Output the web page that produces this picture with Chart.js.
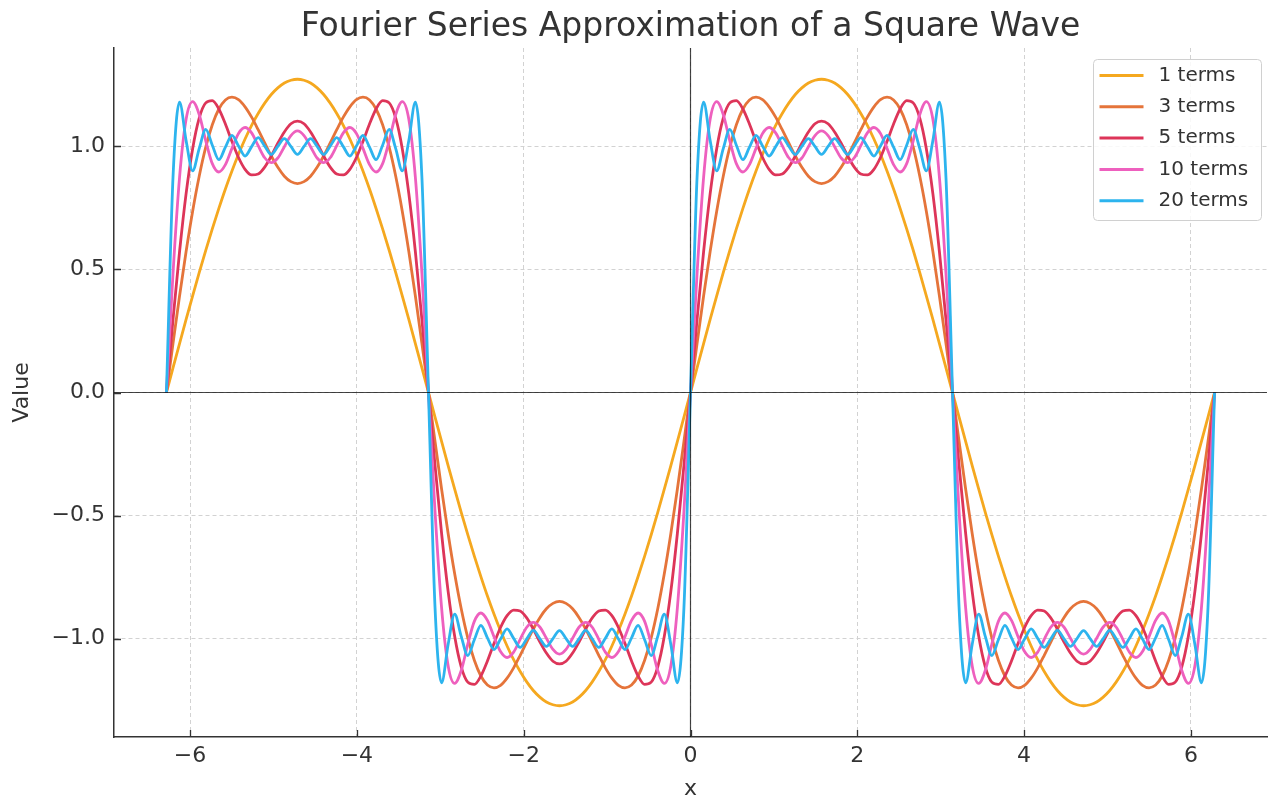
<!DOCTYPE html>
<html>
<head>
<meta charset="utf-8">
<title>Fourier Series Approximation of a Square Wave</title>
<script src="https://cdn.jsdelivr.net/npm/chart.js@4.4.0/dist/chart.umd.min.js"></script>
<style>
    html, body { margin: 0; padding: 0; background: #fff; }
    #wrap { width: 1270px; height: 800px; }
</style>
</head>
<body>
<div id="wrap"><canvas id="fourierChart" width="1270" height="800"></canvas></div>
<script>
// Sample grid: x from -2pi to 2pi, one sample every pi/40 (161 samples per curve)
const xStart = -2 * Math.PI;
const xStep = Math.PI / 40;

const seriesLabels = ['1 terms', '3 terms', '5 terms', '10 terms', '20 terms'];
const xTickValues = [-6, -4, -2, 0, 2, 4, 6];
const yTickValues = [-1.0, -0.5, 0.0, 0.5, 1.0];

// Values (one period = rise, fall, 0, -rise, -fall)
const terms1 = [
    0,
    0.100, 0.199, 0.297, 0.393, 0.487, 0.578, 0.665, 0.748, 0.827, 0.900, 0.968, 1.030, 1.086, 1.134, 1.176, 1.211, 1.238, 1.258, 1.269, 1.273,
    1.269, 1.258, 1.238, 1.211, 1.176, 1.134, 1.086, 1.030, 0.968, 0.900, 0.827, 0.748, 0.665, 0.578, 0.487, 0.393, 0.297, 0.199, 0.100,
    0,
    -0.100, -0.199, -0.297, -0.393, -0.487, -0.578, -0.665, -0.748, -0.827, -0.900, -0.968, -1.030, -1.086, -1.134, -1.176, -1.211, -1.238, -1.258, -1.269, -1.273,
    -1.269, -1.258, -1.238, -1.211, -1.176, -1.134, -1.086, -1.030, -0.968, -0.900, -0.827, -0.748, -0.665, -0.578, -0.487, -0.393, -0.297, -0.199, -0.100,
    0,
    0.100, 0.199, 0.297, 0.393, 0.487, 0.578, 0.665, 0.748, 0.827, 0.900, 0.968, 1.030, 1.086, 1.134, 1.176, 1.211, 1.238, 1.258, 1.269, 1.273,
    1.269, 1.258, 1.238, 1.211, 1.176, 1.134, 1.086, 1.030, 0.968, 0.900, 0.827, 0.748, 0.665, 0.578, 0.487, 0.393, 0.297, 0.199, 0.100,
    0,
    -0.100, -0.199, -0.297, -0.393, -0.487, -0.578, -0.665, -0.748, -0.827, -0.900, -0.968, -1.030, -1.086, -1.134, -1.176, -1.211, -1.238, -1.258, -1.269, -1.273,
    -1.269, -1.258, -1.238, -1.211, -1.176, -1.134, -1.086, -1.030, -0.968, -0.900, -0.827, -0.748, -0.665, -0.578, -0.487, -0.393, -0.297, -0.199, -0.100,
    0
];

const terms3 = [
    0,
    0.199, 0.392, 0.573, 0.737, 0.879, 0.997, 1.088, 1.152, 1.189, 1.200, 1.190, 1.161, 1.119, 1.068, 1.014, 0.961, 0.915, 0.879, 0.857, 0.849,
    0.857, 0.879, 0.915, 0.961, 1.014, 1.068, 1.119, 1.161, 1.190, 1.200, 1.189, 1.152, 1.088, 0.997, 0.879, 0.737, 0.573, 0.392, 0.199,
    0,
    -0.199, -0.392, -0.573, -0.737, -0.879, -0.997, -1.088, -1.152, -1.189, -1.200, -1.190, -1.161, -1.119, -1.068, -1.014, -0.961, -0.915, -0.879, -0.857, -0.849,
    -0.857, -0.879, -0.915, -0.961, -1.014, -1.068, -1.119, -1.161, -1.190, -1.200, -1.189, -1.152, -1.088, -0.997, -0.879, -0.737, -0.573, -0.392, -0.199,
    0,
    0.199, 0.392, 0.573, 0.737, 0.879, 0.997, 1.088, 1.152, 1.189, 1.200, 1.190, 1.161, 1.119, 1.068, 1.014, 0.961, 0.915, 0.879, 0.857, 0.849,
    0.857, 0.879, 0.915, 0.961, 1.014, 1.068, 1.119, 1.161, 1.190, 1.200, 1.189, 1.152, 1.088, 0.997, 0.879, 0.737, 0.573, 0.392, 0.199,
    0,
    -0.199, -0.392, -0.573, -0.737, -0.879, -0.997, -1.088, -1.152, -1.189, -1.200, -1.190, -1.161, -1.119, -1.068, -1.014, -0.961, -0.915, -0.879, -0.857, -0.849,
    -0.857, -0.879, -0.915, -0.961, -1.014, -1.068, -1.119, -1.161, -1.190, -1.200, -1.189, -1.152, -1.088, -0.997, -0.879, -0.737, -0.573, -0.392, -0.199,
    0
];

const terms5 = [
    0,
    0.296, 0.572, 0.808, 0.991, 1.115, 1.177, 1.186, 1.152, 1.091, 1.020, 0.955, 0.907, 0.884, 0.888, 0.916, 0.961, 1.013, 1.059, 1.092, 1.103,
    1.092, 1.059, 1.013, 0.961, 0.916, 0.888, 0.884, 0.907, 0.955, 1.020, 1.091, 1.152, 1.186, 1.177, 1.115, 0.991, 0.808, 0.572, 0.296,
    0,
    -0.296, -0.572, -0.808, -0.991, -1.115, -1.177, -1.186, -1.152, -1.091, -1.020, -0.955, -0.907, -0.884, -0.888, -0.916, -0.961, -1.013, -1.059, -1.092, -1.103,
    -1.092, -1.059, -1.013, -0.961, -0.916, -0.888, -0.884, -0.907, -0.955, -1.020, -1.091, -1.152, -1.186, -1.177, -1.115, -0.991, -0.808, -0.572, -0.296,
    0,
    0.296, 0.572, 0.808, 0.991, 1.115, 1.177, 1.186, 1.152, 1.091, 1.020, 0.955, 0.907, 0.884, 0.888, 0.916, 0.961, 1.013, 1.059, 1.092, 1.103,
    1.092, 1.059, 1.013, 0.961, 0.916, 0.888, 0.884, 0.907, 0.955, 1.020, 1.091, 1.152, 1.186, 1.177, 1.115, 0.991, 0.808, 0.572, 0.296,
    0,
    -0.296, -0.572, -0.808, -0.991, -1.115, -1.177, -1.186, -1.152, -1.091, -1.020, -0.955, -0.907, -0.884, -0.888, -0.916, -0.961, -1.013, -1.059, -1.092, -1.103,
    -1.092, -1.059, -1.013, -0.961, -0.916, -0.888, -0.884, -0.907, -0.955, -1.020, -1.091, -1.152, -1.186, -1.177, -1.115, -0.991, -0.808, -0.572, -0.296,
    0
];

const terms10 = [
    0,
    0.483, 0.874, 1.110, 1.182, 1.130, 1.023, 0.930, 0.896, 0.926, 0.992, 1.053, 1.077, 1.055, 1.003, 0.954, 0.934, 0.953, 0.999, 1.044, 1.063,
    1.044, 0.999, 0.953, 0.934, 0.954, 1.003, 1.055, 1.077, 1.053, 0.992, 0.926, 0.896, 0.930, 1.023, 1.130, 1.182, 1.110, 0.874, 0.483,
    0,
    -0.483, -0.874, -1.110, -1.182, -1.130, -1.023, -0.930, -0.896, -0.926, -0.992, -1.053, -1.077, -1.055, -1.003, -0.954, -0.934, -0.953, -0.999, -1.044, -1.063,
    -1.044, -0.999, -0.953, -0.934, -0.954, -1.003, -1.055, -1.077, -1.053, -0.992, -0.926, -0.896, -0.930, -1.023, -1.130, -1.182, -1.110, -0.874, -0.483,
    0,
    0.483, 0.874, 1.110, 1.182, 1.130, 1.023, 0.930, 0.896, 0.926, 0.992, 1.053, 1.077, 1.055, 1.003, 0.954, 0.934, 0.953, 0.999, 1.044, 1.063,
    1.044, 0.999, 0.953, 0.934, 0.954, 1.003, 1.055, 1.077, 1.053, 0.992, 0.926, 0.896, 0.930, 1.023, 1.130, 1.182, 1.110, 0.874, 0.483,
    0,
    -0.483, -0.874, -1.110, -1.182, -1.130, -1.023, -0.930, -0.896, -0.926, -0.992, -1.053, -1.077, -1.055, -1.003, -0.954, -0.934, -0.953, -0.999, -1.044, -1.063,
    -1.044, -0.999, -0.953, -0.934, -0.954, -1.003, -1.055, -1.077, -1.053, -0.992, -0.926, -0.896, -0.930, -1.023, -1.130, -1.182, -1.110, -0.874, -0.483,
    0
];

const terms20 = [
    0,
    0.873, 1.180, 1.024, 0.901, 0.991, 1.069, 1.005, 0.946, 0.997, 1.045, 1.002, 0.961, 0.999, 1.036, 1.001, 0.967, 1.000, 1.032, 1.000, 0.968,
    1.000, 1.032, 1.000, 0.967, 1.001, 1.036, 0.999, 0.961, 1.002, 1.045, 0.997, 0.946, 1.005, 1.069, 0.991, 0.901, 1.024, 1.180, 0.873,
    0,
    -0.873, -1.180, -1.024, -0.901, -0.991, -1.069, -1.005, -0.946, -0.997, -1.045, -1.002, -0.961, -0.999, -1.036, -1.001, -0.967, -1.000, -1.032, -1.000, -0.968,
    -1.000, -1.032, -1.000, -0.967, -1.001, -1.036, -0.999, -0.961, -1.002, -1.045, -0.997, -0.946, -1.005, -1.069, -0.991, -0.901, -1.024, -1.180, -0.873,
    0,
    0.873, 1.180, 1.024, 0.901, 0.991, 1.069, 1.005, 0.946, 0.997, 1.045, 1.002, 0.961, 0.999, 1.036, 1.001, 0.967, 1.000, 1.032, 1.000, 0.968,
    1.000, 1.032, 1.000, 0.967, 1.001, 1.036, 0.999, 0.961, 1.002, 1.045, 0.997, 0.946, 1.005, 1.069, 0.991, 0.901, 1.024, 1.180, 0.873,
    0,
    -0.873, -1.180, -1.024, -0.901, -0.991, -1.069, -1.005, -0.946, -0.997, -1.045, -1.002, -0.961, -0.999, -1.036, -1.001, -0.967, -1.000, -1.032, -1.000, -0.968,
    -1.000, -1.032, -1.000, -0.967, -1.001, -1.036, -0.999, -0.961, -1.002, -1.045, -0.997, -0.946, -1.005, -1.069, -0.991, -0.901, -1.024, -1.180, -0.873,
    0
];

const seriesValues = [terms1, terms3, terms5, terms10, terms20];
const seriesColors = ['#f5a81f', '#e5743a', '#dd3559', '#ee60be', '#2db4ee'];

const textColor = '#333333';
Chart.defaults.font.family = "'DejaVu Sans', sans-serif";

function fmt(value, digits) {
    return Number(value).toFixed(digits).replace('-', '\u2212');
}

// zero lines + small inward tick marks, like the original axes
const axesDecor = {
    id: 'axesDecor',
    afterDatasetsDraw(chart) {
        const {ctx, chartArea: a, scales: {x, y}} = chart;
        ctx.save();
        ctx.strokeStyle = 'rgba(0,0,0,0.72)';
        ctx.lineWidth = 1.2;
        const x0 = x.getPixelForValue(0);
        const y0 = y.getPixelForValue(0);
        ctx.beginPath();
        ctx.moveTo(a.left, y0);
        ctx.lineTo(a.right, y0);
        ctx.moveTo(x0, a.top);
        ctx.lineTo(x0, a.bottom);
        ctx.stroke();

        ctx.strokeStyle = textColor;
        ctx.lineWidth = 1.3;
        ctx.beginPath();
        xTickValues.forEach(v => {
            const px = Math.round(x.getPixelForValue(v)) + 0.5;
            ctx.moveTo(px, a.bottom);
            ctx.lineTo(px, a.bottom - 7);
        });
        yTickValues.forEach(v => {
            const py = Math.round(y.getPixelForValue(v)) + 0.5;
            ctx.moveTo(a.left, py);
            ctx.lineTo(a.left + 7, py);
        });
        ctx.stroke();
        ctx.restore();
    }
};

// legend box in the upper right corner of the plot
const boxLegend = {
    id: 'boxLegend',
    afterDraw(chart) {
        const {ctx, chartArea: a} = chart;
        const w = 168, h = 161;
        const left = Math.round(a.right - 6 - w) + 0.5;
        const top = Math.round(a.top + 11) + 0.5;
        ctx.save();
        ctx.fillStyle = 'rgba(255,255,255,0.85)';
        ctx.strokeStyle = '#d0d0d0';
        ctx.lineWidth = 1;
        ctx.beginPath();
        if (ctx.roundRect) {
            ctx.roundRect(left, top, w, h, 4);
        } else {
            ctx.rect(left, top, w, h);
        }
        ctx.fill();
        ctx.stroke();

        ctx.font = '20px "DejaVu Sans"';
        ctx.textBaseline = 'middle';
        ctx.textAlign = 'left';
        chart.data.datasets.forEach((ds, i) => {
            const cy = top + 16 + i * 31.3;
            ctx.strokeStyle = ds.borderColor;
            ctx.lineWidth = 3;
            ctx.beginPath();
            ctx.moveTo(left + 6, cy);
            ctx.lineTo(left + 50, cy);
            ctx.stroke();
            ctx.fillStyle = textColor;
            ctx.fillText(ds.label, left + 65, cy);
        });
        ctx.restore();
    }
};

const gridOpts = { color: '#d2d2d2', lineWidth: 1, drawTicks: false };
const borderOpts = { display: true, color: textColor, width: 1.5, dash: [4, 3] };

new Chart(document.getElementById('fourierChart'), {
    type: 'line',
    data: {
        datasets: seriesValues.map((vals, i) => ({
            label: seriesLabels[i],
            data: vals.map((v, k) => ({ x: xStart + k * xStep, y: v })),
            borderColor: seriesColors[i],
            backgroundColor: seriesColors[i],
            borderWidth: 2.8,
            pointRadius: 0,
            fill: false,
            cubicInterpolationMode: 'monotone',
            order: seriesValues.length - i
        }))
    },
    options: {
        responsive: false,
        animation: false,
        layout: { padding: { left: 0, right: 3, top: 0, bottom: 0 } },
        plugins: {
            legend: { display: false },
            tooltip: { enabled: false },
            title: {
                display: true,
                fullSize: false,
                text: 'Fourier Series Approximation of a Square Wave',
                color: textColor,
                font: { size: 33, weight: 'normal', lineHeight: 1.0 },
                padding: { top: 11, bottom: 4 }
            }
        },
        scales: {
            x: {
                type: 'linear',
                min: -6.912,
                max: 6.912,
                afterBuildTicks: s => { s.ticks = xTickValues.map(v => ({ value: v })); },
                afterFit: s => { s.height = 63; },
                grid: gridOpts,
                border: borderOpts,
                ticks: {
                    color: textColor,
                    font: { size: 22 },
                    padding: 6,
                    maxRotation: 0,
                    autoSkip: false,
                    callback: v => fmt(v, 0)
                },
                title: {
                    display: true,
                    text: 'x',
                    color: textColor,
                    font: { size: 22, lineHeight: 1.0 },
                    padding: { top: 0, bottom: 0 }
                }
            },
            y: {
                type: 'linear',
                min: -1.40,
                max: 1.40,
                afterBuildTicks: s => { s.ticks = yTickValues.map(v => ({ value: v })); },
                afterFit: s => { s.width = 114; },
                grid: gridOpts,
                border: borderOpts,
                ticks: {
                    color: textColor,
                    font: { size: 22 },
                    padding: 9,
                    callback: v => fmt(v, 1)
                },
                title: {
                    display: true,
                    text: 'Value',
                    color: textColor,
                    font: { size: 22, lineHeight: 1.2 },
                    padding: { top: 9, bottom: 0 }
                }
            }
        }
    },
    plugins: [axesDecor, boxLegend]
});
</script>
</body>
</html>
